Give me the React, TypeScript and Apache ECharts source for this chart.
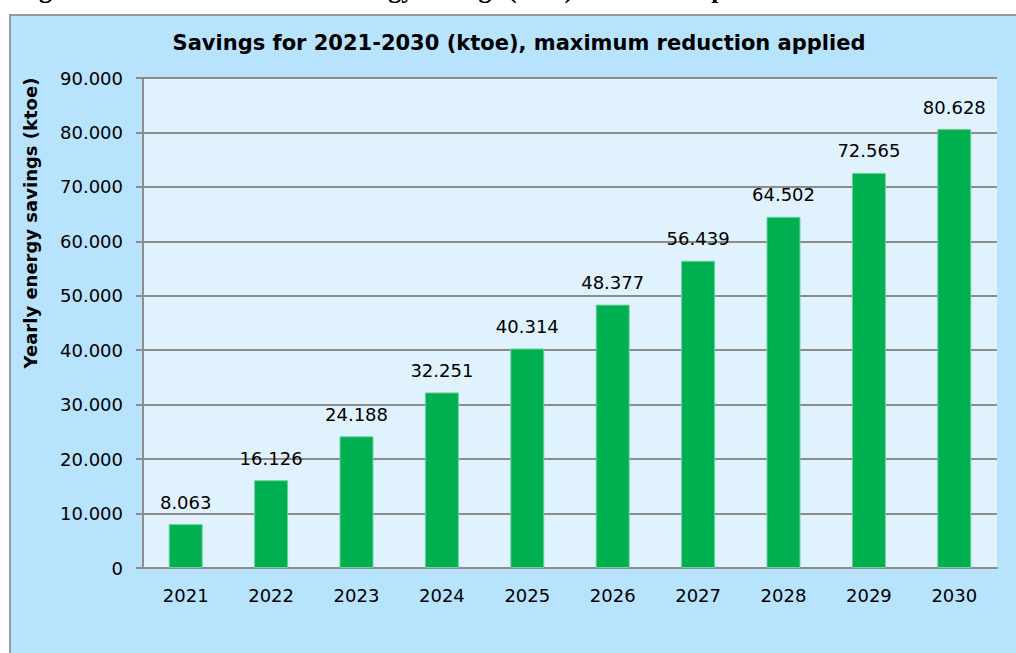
import React, { useEffect, useRef } from "react";
import * as echarts from "echarts";

const categories = ["2021", "2022", "2023", "2024", "2025", "2026", "2027", "2028", "2029", "2030"];
const savings = [8063, 16126, 24188, 32251, 40314, 48377, 56439, 64502, 72565, 80628];
const yTicks = { min: 0, max: 90000, interval: 10000 };
const title = "Savings for 2021-2030 (ktoe), maximum reduction applied";
const yName = "Yearly energy savings (ktoe)";
const caption = "Figure 13: Estimated annual energy savings (ktoe) for the new period 2021-2030";

const fmt = (v: number) => {
  if (v === 0) return "0";
  const s = String(Math.round(v));
  return s.slice(0, s.length - 3) + "." + s.slice(s.length - 3);
};

export default function App() {
  const ref = useRef<HTMLDivElement>(null);
  useEffect(() => {
    document.body.style.margin = "0";
    const chart = echarts.init(ref.current!, null, { renderer: "svg" });
    const font = "'DejaVu Sans', sans-serif";
    chart.setOption({
      animation: false,
      backgroundColor: "#ffffff",
      textStyle: { fontFamily: font },
      graphic: [
        {
          type: "rect",
          z: -10,
          shape: { x: 10, y: 15, width: 1030, height: 660 },
          style: { fill: "#b8e3fd", stroke: "#999999", lineWidth: 2 },
        },
        {
          type: "text",
          x: 16,
          y: -24,
          z: -20,
          style: {
            text: caption,
            font: "bold 26px 'Liberation Serif', serif",
            fill: "#000",
            textAlign: "left",
            textVerticalAlign: "top",
          },
        },
        {
          type: "text",
          x: 519,
          y: 43,
          style: {
            text: title,
            font: "bold 21px " + font,
            fill: "#000",
            textAlign: "center",
            textVerticalAlign: "middle",
          },
        },
        {
          type: "text",
          x: 30,
          y: 223,
          rotation: Math.PI / 2,
          style: {
            text: yName,
            font: "bold 18px " + font,
            fill: "#000",
            textAlign: "center",
            textVerticalAlign: "middle",
          },
        },
      ],
      grid: {
        left: 143,
        right: 19,
        top: 78,
        bottom: 85,
        show: true,
        backgroundColor: "#e0f2fe",
        borderWidth: 0,
      },
      xAxis: {
        type: "category",
        data: categories,
        axisLine: { lineStyle: { color: "#8c8c8c", width: 2 } },
        axisTick: { show: false },
        axisLabel: { color: "#000", fontSize: 18, margin: 18, fontFamily: font },
      },
      yAxis: {
        type: "value",
        min: yTicks.min,
        max: yTicks.max,
        interval: yTicks.interval,
        axisLine: { show: true, lineStyle: { color: "#8c8c8c", width: 2 } },
        axisTick: { show: true, length: 7, lineStyle: { color: "#8c8c8c", width: 2 } },
        splitLine: { lineStyle: { color: "#8c8c8c", width: 2 } },
        axisLabel: { color: "#000", fontSize: 18, margin: 20, fontFamily: font, formatter: fmt },
      },
      series: [
        {
          type: "bar",
          data: savings,
          barWidth: 34,
          itemStyle: { color: "#00b050", borderColor: "#6fd29a", borderWidth: 1 },
          label: {
            show: true,
            position: "top",
            distance: 13,
            color: "#000",
            fontSize: 18,
            fontFamily: font,
            formatter: (p: any) => fmt(p.value),
          },
        },
      ],
    });
    return () => chart.dispose();
  }, []);
  return (
    <div
      ref={ref}
      style={{ position: "absolute", left: 0, top: 0, width: 1016, height: 653 }}
    />
  );
}
